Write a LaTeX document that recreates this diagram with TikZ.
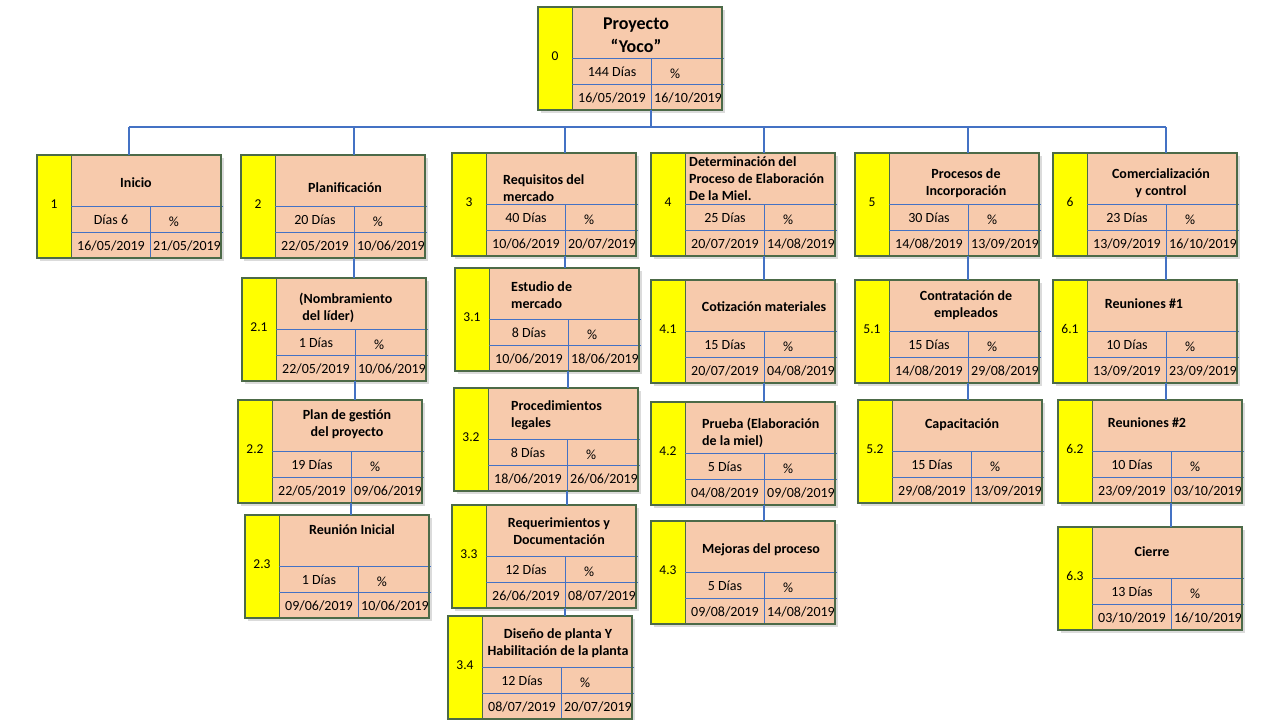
\documentclass[tikz,border=0pt]{standalone}
\usepackage{fontspec}
\setmainfont{Carlito}
\usetikzlibrary{positioning}
\definecolor{salmon}{RGB}{247,202,172}
\definecolor{wbsyellow}{RGB}{255,255,0}
\definecolor{wbsgreen}{RGB}{76,106,72}
\definecolor{wbsblue}{RGB}{68,114,196}

% one work package: name, position, number, title options, title, days, start, end
\newcommand{\wbsbox}[8]{%
  \begin{scope}[shift={#2}]
    \fill[box shadow] (3,3) rectangle (187,106);
    \node[box frame] (#1) at (0,0) {};
    \draw[num strip] (0,0) rectangle (34,103);
    \draw[row line] (34,51) -- (186,51) (34,77) -- (186,77) (113,51) -- (113,103);
    \draw[frame line] (0,0) rectangle (184,103);
    \coordinate (#1-d) at (113,103);
    \node[num text] at (17,49) {#3};
    \node[title text, at={(109,25)}, #4] {#5};
    \node[data text] at (74,65) {#6};
    \node[data text] at (137,67) {\%};
    \node[data text] at (74,91) {#7};
    \node[data text] at (150,91) {#8};
  \end{scope}}

\begin{document}
\begin{tikzpicture}[x=1pt,y=-1pt,
    box shadow/.style={fill=black!14},
    box frame/.style={anchor=north west,minimum width=184,minimum height=103,inner sep=0,outer sep=0,fill=salmon},
    num strip/.style={draw=wbsgreen,line width=1pt,fill=wbsyellow},
    row line/.style={draw=wbsblue,line width=0.8pt},
    frame line/.style={draw=wbsgreen,line width=1.2pt},
    wbs link/.style={draw=wbsblue,line width=2pt},
    num text/.style={font=\fontsize{13.5}{15}\selectfont},
    title text/.style={font=\bfseries\fontsize{14}{17}\selectfont,align=center,inner sep=0},
    data text/.style={font=\fontsize{14}{16}\selectfont,inner sep=0}]

  \useasboundingbox[fill=white] (0,0) rectangle (1280,720);

  \wbsbox{b0}{(538,7)}{0}{font=\bfseries\fontsize{18}{23}\selectfont, at={(98,28)}}{Proyecto\\“Yoco”}{144 Días}{16/05/2019}{16/10/2019}

  \wbsbox{b1}{(37,155)}{1}{at={(99,28)}}{Inicio}{Días 6}{16/05/2019}{21/05/2019}
  \wbsbox{b2}{(241,155)}{2}{at={(104,33)}}{Planificación}{20 Días}{22/05/2019}{10/06/2019}
  \wbsbox{b3}{(452,153)}{3}{at={(51,35)}, anchor=west, align=left}{Requisitos del\\mercado}{40 Días}{10/06/2019}{20/07/2019}
  \wbsbox{b4}{(651,153)}{4}{at={(38,26)}, anchor=west, align=left}{Determinación del\\Proceso de Elaboración\\De la Miel.}{25 Días}{20/07/2019}{14/08/2019}
  \wbsbox{b5}{(855,153)}{5}{at={(111,30)}}{Procesos de\\Incorporación}{30 Días}{14/08/2019}{13/09/2019}
  \wbsbox{b6}{(1053,153)}{6}{at={(108,30)}}{Comercialización\\y control}{23 Días}{13/09/2019}{16/10/2019}

  \wbsbox{b21}{(242,278)}{2.1}{at={(57,30)}, anchor=west, align=left}{(Nombramiento\\\ del líder)}{1 Días}{22/05/2019}{10/06/2019}
  \wbsbox{b22}{(238,400)}{2.2}{at={(109,24)}}{Plan de gestión\\del proyecto}{19 Días}{22/05/2019}{09/06/2019}
  \wbsbox{b23}{(245,515)}{2.3}{at={(107,15)}}{Reunión Inicial}{1 Días}{09/06/2019}{10/06/2019}

  \wbsbox{b31}{(455,268)}{3.1}{at={(56,27)}, anchor=west, align=left}{Estudio de\\mercado}{8 Días}{10/06/2019}{18/06/2019}
  \wbsbox{b32}{(454,388)}{3.2}{at={(57,27)}, anchor=west, align=left}{Procedimientos\\legales}{8 Días}{18/06/2019}{26/06/2019}
  \wbsbox{b33}{(452,505)}{3.3}{at={(107,26)}}{Requerimientos y\\Documentación}{12 Días}{26/06/2019}{08/07/2019}
  \wbsbox{b34}{(448,616)}{3.4}{at={(110,27)}}{Diseño de planta Y\\Habilitación de la planta}{12 Días}{08/07/2019}{20/07/2019}

  \wbsbox{b41}{(651,280)}{4.1}{at={(113,27)}}{Cotización materiales}{15 Días}{20/07/2019}{04/08/2019}
  \wbsbox{b42}{(651,402)}{4.2}{at={(51,31)}, anchor=west, align=left}{Prueba (Elaboración\\de la miel)}{5 Días}{04/08/2019}{09/08/2019}
  \wbsbox{b43}{(651,521)}{4.3}{at={(110,29)}}{Mejoras del proceso}{5 Días}{09/08/2019}{14/08/2019}

  \wbsbox{b51}{(855,280)}{5.1}{at={(111,25)}}{Contratación de\\empleados}{15 Días}{14/08/2019}{29/08/2019}
  \wbsbox{b52}{(858,400)}{5.2}{at={(104,25)}}{Capacitación}{15 Días}{29/08/2019}{13/09/2019}

  \wbsbox{b61}{(1053,280)}{6.1}{at={(91,24)}}{Reuniones \#1}{10 Días}{13/09/2019}{23/09/2019}
  \wbsbox{b62}{(1058,400)}{6.2}{at={(89,23)}}{Reuniones \#2}{10 Días}{23/09/2019}{03/10/2019}
  \wbsbox{b63}{(1058,527)}{6.3}{at={(94,25)}}{Cierre}{13 Días}{03/10/2019}{16/10/2019}

  % bus from the project to the six phases
  \coordinate (bus) at (0,127);
  \draw[wbs link] (b0-d) -- (b0-d |- bus);
  \draw[wbs link] (b1.north |- bus) -- (b6-d |- bus);
  \draw[wbs link] (b1.north |- bus) -- (b1.north);
  \foreach \b in {b2,b3,b4,b5,b6}
    \draw[wbs link] (\b-d |- bus) -- (\b-d |- \b.north);

  % each phase down to its tasks
  \foreach \p/\c in {b2/b21,b21/b22,b22/b23,b3/b31,b31/b32,b32/b33,b33/b34,
                     b4/b41,b41/b42,b42/b43,b5/b51,b51/b52,b6/b61,b61/b62,b62/b63}
    \draw[wbs link] (\p-d) -- (\p-d |- \c.north);
\end{tikzpicture}
\end{document}
